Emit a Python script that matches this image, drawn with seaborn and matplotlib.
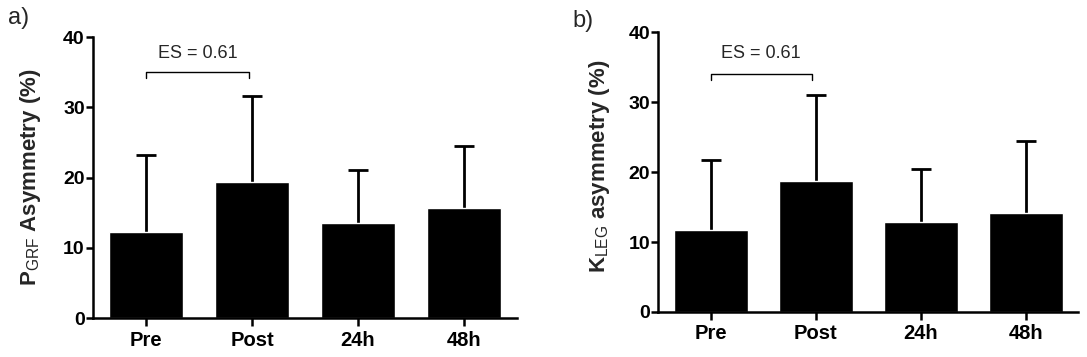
import matplotlib
matplotlib.use("Agg")
import matplotlib.pyplot as plt
import seaborn as sns
import numpy as np
import pandas as pd

categories = ["Pre", "Post", "24h", "48h"]
pgrf_mean = [12.3, 19.4, 13.5, 15.7]
pgrf_sd = [10.9, 12.2, 7.6, 8.8]
kleg_mean = [11.7, 18.7, 12.8, 14.1]
kleg_sd = [10.0, 12.4, 7.6, 10.3]
es_text = "ES = 0.61"
yticks = [0, 10, 20, 30, 40]

sns.set_theme(style="ticks")
plt.rcParams['font.family'] = ['Liberation Sans', 'DejaVu Sans']
plt.rcParams['mathtext.fontset'] = 'custom'
plt.rcParams['mathtext.rm'] = 'Liberation Sans'
plt.rcParams['mathtext.bf'] = 'Liberation Sans:bold'

fig = plt.figure(figsize=(10.87, 3.57), dpi=100)
ax_a = fig.add_axes([0.0856, 0.1092, 0.3898, 0.7871])
ax_b = fig.add_axes([0.6056, 0.1261, 0.3864, 0.7835])


def draw(ax, means, sds, ylabel, br_y, br_x1, txt_y, label_coords):
    df = pd.DataFrame({"cat": categories, "val": means})
    sns.barplot(data=df, x="cat", y="val", color="black", saturation=1,
                width=0.7, ax=ax, errorbar=None, zorder=2)
    x = np.arange(len(categories))
    _, caps, _ = ax.errorbar(x, means, yerr=[np.zeros(len(sds)), sds], fmt="none",
                             ecolor="black", elinewidth=2, capsize=7, capthick=2,
                             zorder=1)
    for cl in caps:
        if np.allclose(cl.get_ydata(), means):
            cl.set_visible(False)
    ax.set_xlim(-0.5, 3.5)
    ax.set_ylim(0, 40)
    ax.set_yticks(yticks)
    ax.set_xlabel("")
    ax.set_ylabel(ylabel, fontsize=16, fontweight="bold")
    ax.yaxis.set_label_coords(*label_coords)
    for s in ["top", "right"]:
        ax.spines[s].set_visible(False)
    for s in ["left", "bottom"]:
        ax.spines[s].set_linewidth(1.8)
        ax.spines[s].set_color("black")
    ax.tick_params(axis="y", direction="out", length=5, width=1.8,
                   labelsize=14, pad=1, colors="black")
    ax.tick_params(axis="x", direction="out", length=6, width=1.8,
                   labelsize=14.5, pad=3, colors="black")
    for lab in ax.get_xticklabels() + ax.get_yticklabels():
        lab.set_fontweight("bold")
    # ES bracket annotation
    ax.plot([0, 0, br_x1, br_x1], [br_y - 0.8, br_y, br_y, br_y - 0.8],
            color="black", lw=1.0)
    ax.text(br_x1 / 2, txt_y, es_text, ha="center", va="center", fontsize=13)


draw(ax_a, pgrf_mean, pgrf_sd, r"P$_{\mathrm{GRF}}$ Asymmetry (%)",
     35.0, 0.97, 37.7, (-0.117, 0.5))
draw(ax_b, kleg_mean, kleg_sd, r"K$_{\mathrm{LEG}}$ asymmetry (%)",
     34.0, 0.96, 36.9, (-0.11, 0.52))

fig.text(0.007, 0.95, "a)", fontsize=17, va="center", ha="left")
fig.text(0.527, 0.94, "b)", fontsize=17, va="center", ha="left")

fig.savefig("out.png", dpi=100, facecolor="white")
